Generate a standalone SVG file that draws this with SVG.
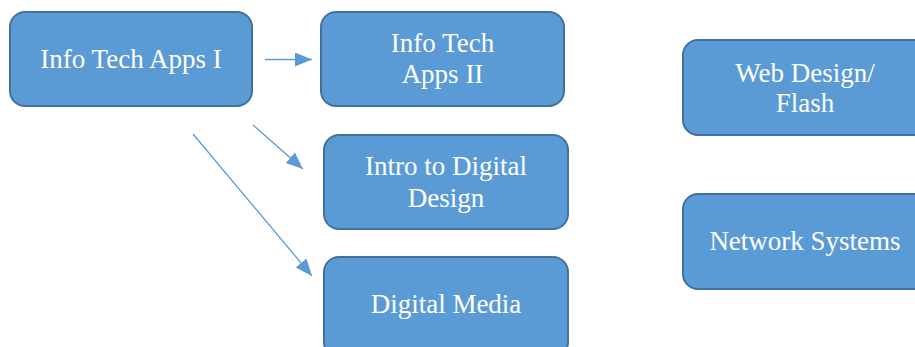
<svg xmlns="http://www.w3.org/2000/svg" width="915" height="347" viewBox="0 0 915 347">
<style>
.box{fill:#5B9BD5;stroke:#41719C;stroke-width:2}
.t{font-family:"Liberation Serif","Times New Roman",serif;font-size:27px;fill:#fff;text-anchor:middle}
.c{stroke:#5B9BD5;stroke-width:1.3;fill:none;marker-end:url(#ah)}
</style>
<defs>
<marker id="ah" markerUnits="userSpaceOnUse" markerWidth="19" markerHeight="16" refX="17" refY="7" orient="auto">
<path d="M0,0 L17,7 L0,14 Z" fill="#5B9BD5"/>
</marker>
</defs>
<rect width="915" height="347" fill="#fff"/>
<g id="connectors">
<line class="c" x1="265" y1="59.5" x2="312" y2="59.5"/>
<line class="c" x1="253" y1="125" x2="303" y2="169"/>
<line class="c" x1="193" y1="134" x2="312" y2="276"/>
</g>
<g id="n1"><rect class="box" x="10" y="12" width="242" height="94" rx="15"/><text class="t" x="131" y="68">Info Tech Apps I</text></g>
<g id="n2"><rect class="box" x="321" y="12" width="243" height="94" rx="15"/><text class="t" x="442.5" y="52">Info Tech</text><text class="t" x="442.5" y="83">Apps II</text></g>
<g id="n3"><rect class="box" x="324" y="135" width="244" height="94" rx="15"/><text class="t" x="446" y="175">Intro to Digital</text><text class="t" x="446" y="207">Design</text></g>
<g id="n4"><rect class="box" x="324" y="257" width="244" height="100" rx="15"/><text class="t" x="446" y="313">Digital Media</text></g>
<g id="n5"><rect class="box" x="683" y="40" width="250" height="95" rx="15"/><text class="t" x="805" y="82">Web Design/</text><text class="t" x="805" y="112">Flash</text></g>
<g id="n6"><rect class="box" x="683" y="194" width="250" height="95" rx="15"/><text class="t" x="805" y="250">Network Systems</text></g>
</svg>
